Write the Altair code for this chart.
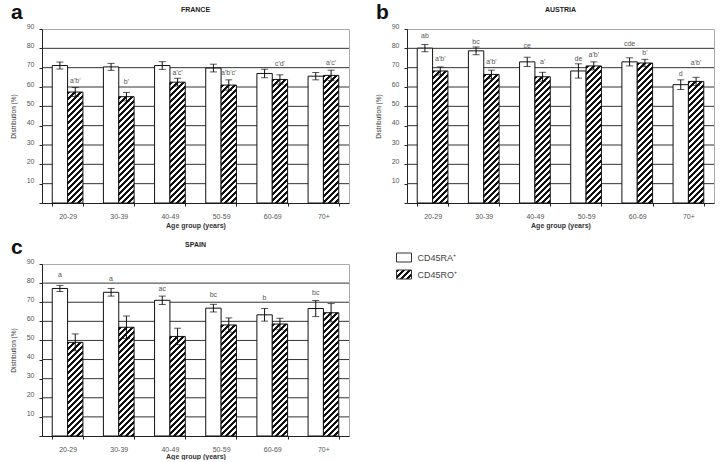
import altair as alt
import pandas as pd

ages = ["20-29", "30-39", "40-49", "50-59", "60-69", "70+"]
series = ["CD45RA⁺", "CD45RO⁺"]

# France
fr_ra = [71.1, 70.4, 71.1, 69.8, 67.0, 65.6]
fr_ra_err = [1.8, 1.8, 2.0, 2.0, 2.2, 1.9]
fr_ro = [57.4, 55.0, 62.5, 61.0, 63.9, 66.0]
fr_ro_err = [2.3, 2.2, 2.0, 2.7, 2.4, 2.7]
fr_ra_lab = ["", "", "", "", "", ""]
fr_ra_lab_y = [0, 0, 0, 0, 0, 0]
fr_ro_lab = ["a'b'", "b'", "a'c'", "a'b'c'", "c'd'", "a'c'"]
fr_ro_lab_y = [63.2, 62.5, 67.4, 67.0, 72.0, 72.5]

# Austria
at_ra = [80.1, 78.7, 73.0, 68.3, 73.0, 61.2]
at_ra_err = [1.9, 2.0, 2.4, 3.7, 2.1, 2.5]
at_ro = [68.3, 66.5, 65.3, 70.9, 72.4, 62.9]
at_ro_err = [2.1, 2.2, 2.3, 2.1, 1.9, 2.1]
at_ra_lab = ["ab", "bc", "ce", "de", "cde", "d"]
at_ra_lab_y = [86.3, 83.4, 81.0, 74.7, 82.0, 66.7]
at_ro_lab = ["a'b'", "a'b'", "a'", "a'b'", "b'", "a'b'"]
at_ro_lab_y = [74.4, 73.0, 73.0, 76.8, 77.8, 72.3]

# Spain
es_ra = [77.2, 75.2, 71.0, 66.9, 63.4, 66.7]
es_ra_err = [1.6, 2.0, 2.2, 2.0, 3.3, 4.2]
es_ro = [49.0, 56.9, 52.1, 58.1, 58.6, 64.5]
es_ro_err = [4.4, 5.9, 4.3, 3.7, 3.0, 4.8]
es_ra_lab = ["a", "a", "ac", "bc", "b", "bc"]
es_ra_lab_y = [84.0, 82.2, 77.1, 73.6, 72.2, 74.7]
es_ro_lab = ["", "", "", "", "", ""]
es_ro_lab_y = [0, 0, 0, 0, 0, 0]

y_ticks = [0, 10, 20, 30, 40, 50, 60, 70, 80, 90]

PW = 307
YMAX = 90
BAR_W = PW / 6 * 0.6 / 2
FONT = "Liberation Sans"


def hatch(h, w, period=6.0, duty=0.5):
    """Diagonal '/' stripes as a linear gradient over the mark's bounding box."""
    L = w + h
    stops = []
    t = 0.0
    while t < L:
        a = t / L
        b = min((t + duty * period) / L, 1.0)
        c = min((t + period) / L, 1.0)
        stops += [
            {"offset": a, "color": "#111111"},
            {"offset": b, "color": "#111111"},
            {"offset": b, "color": "#ffffff"},
            {"offset": c, "color": "#ffffff"},
        ]
        t += period
    r = h / w
    k = (1 + r) / (1 + r * r)
    return {"gradient": "linear", "x1": 0, "y1": 0, "x2": k, "y2": k * r, "stops": stops}


def panel(ra, ra_err, ro, ro_err, ra_lab, ra_lab_y, ro_lab, ro_lab_y, name, ph, xtp):
    rows = []
    for i, a in enumerate(ages):
        rows.append(dict(age=a, series=series[0], value=ra[i], lo=ra[i] - ra_err[i],
                         hi=ra[i] + ra_err[i], lab=ra_lab[i], laby=ra_lab_y[i], grad="#ffffff"))
        rows.append(dict(age=a, series=series[1], value=ro[i], lo=ro[i] - ro_err[i],
                         hi=ro[i] + ro_err[i], lab=ro_lab[i], laby=ro_lab_y[i],
                         grad=hatch(ro[i] / YMAX * ph, BAR_W)))
    df = pd.DataFrame(rows)
    yscale = alt.Scale(domain=[0, YMAX], nice=False)
    yaxis = alt.Axis(title="Distribution (%)", values=y_ticks,
                     labelExpr="datum.value == 0 ? '' : datum.label",
                     tickSize=3, grid=False, titlePadding=10, labelPadding=5,
                     labelOffset=-3)
    base = alt.Chart(df).encode(
        x=alt.X("age:N", sort=ages, title="Age group (years)",
                scale=alt.Scale(paddingInner=0.4, paddingOuter=0.2),
                axis=alt.Axis(labelAngle=0, tickBand="extent", tickSize=3,
                              labelPadding=6, titlePadding=xtp)),
        xOffset=alt.XOffset("series:N", sort=series,
                            scale=alt.Scale(paddingInner=0, paddingOuter=0)),
    )
    grid = alt.Chart(pd.DataFrame({"value": y_ticks[1:-1]})).mark_rule(
        color="#333", strokeWidth=1).encode(y=alt.Y("value:Q", scale=yscale, axis=yaxis))
    bars = base.mark_bar(stroke="#111", strokeWidth=1).encode(
        y=alt.Y("value:Q", scale=yscale, axis=yaxis),
        fill=alt.Fill("grad:N", scale=None),
    )
    rule = base.mark_rule(color="#111", strokeWidth=1).encode(
        y=alt.Y("lo:Q", scale=yscale, axis=yaxis), y2="hi:Q")
    cap_lo = base.mark_tick(color="#111", size=7, thickness=1).encode(
        y=alt.Y("lo:Q", scale=yscale, axis=yaxis))
    cap_hi = base.mark_tick(color="#111", size=7, thickness=1).encode(
        y=alt.Y("hi:Q", scale=yscale, axis=yaxis))
    text = base.mark_text(fontSize=7, color="#555", baseline="middle", font=FONT).encode(
        y=alt.Y("laby:Q", scale=yscale, axis=yaxis), text="lab:N")
    return alt.layer(grid, bars, rule, cap_lo, cap_hi, text).properties(
        width=PW, height=ph,
        title=alt.Title(name, fontSize=7, fontWeight="bold", font=FONT, color="#222", offset=9),
    )


def wrap(ch, letter):
    return alt.vconcat(ch, title=alt.Title(letter, anchor="start", fontSize=21,
                                           fontWeight="bold", font=FONT, color="#111",
                                           offset=-17, dx=-31, frame="group"))


pa = wrap(panel(fr_ra, fr_ra_err, fr_ro, fr_ro_err, fr_ra_lab, fr_ra_lab_y,
                fr_ro_lab, fr_ro_lab_y, "FRANCE", 174, 2), "a")
pb = wrap(panel(at_ra, at_ra_err, at_ro, at_ro_err, at_ra_lab, at_ra_lab_y,
                at_ro_lab, at_ro_lab_y, "AUSTRIA", 174, 2), "b")
pc = wrap(panel(es_ra, es_ra_err, es_ro, es_ro_err, es_ra_lab, es_ra_lab_y,
                es_ro_lab, es_ro_lab_y, "SPAIN", 172, 0), "c")

leg_df = pd.DataFrame({"series": series, "grad": ["#ffffff", hatch(9, 15)]})
legbase = alt.Chart(leg_df).encode(
    y=alt.Y("series:N", sort=series, axis=None,
            scale=alt.Scale(paddingInner=0, paddingOuter=0)))
leg_sym = legbase.mark_point(shape="M-1,-0.6L1,-0.6L1,0.6L-1,0.6Z", size=225,
                             filled=True, opacity=1, stroke="#333", strokeWidth=1,
                             yOffset=-15).encode(
    fill=alt.Fill("grad:N", scale=None))
leg_txt = legbase.mark_text(align="left", dx=13.5, yOffset=-15, fontSize=9,
                            color="#444", font=FONT).encode(text="series:N")
legend = alt.layer(leg_sym, leg_txt).properties(
    width=16, height=34, view=alt.ViewBackground(strokeOpacity=0))

chart = alt.vconcat(
    alt.hconcat(pa, pb, spacing=24),
    alt.hconcat(pc, legend, spacing=44),
    spacing=7,
).configure(
    font=FONT, padding={"left": 9, "top": 1, "right": 5, "bottom": 0}
).configure_view(
    stroke="#aaaaaa", strokeWidth=1
).configure_axis(
    labelFontSize=7, labelColor="#555", titleFontSize=7, titleColor="#333",
    labelFont=FONT, titleFont=FONT, domainColor="#222", tickColor="#222",
).configure_axisX(titleFontWeight="bold").configure_axisY(titleFontWeight="normal", titleFontSize=6.5)

chart.save("out.html", embed_options={"renderer": "svg", "actions": False})
